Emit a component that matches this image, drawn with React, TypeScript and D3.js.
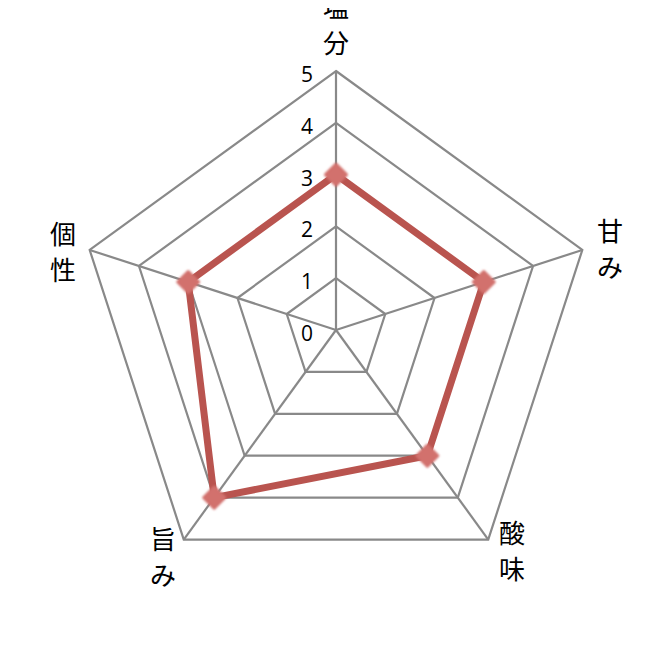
import React, { useRef, useEffect } from "react";
import * as d3 from "d3";

const CATEGORIES = [["塩", "分"], ["甘", "み"], ["酸", "味"], ["旨", "み"], ["個", "性"]];
const VALUES = [3, 3, 3, 4, 3];
const TICKS = [0, 1, 2, 3, 4, 5];

const W = 667;
const H = 649;

const RadarChart: React.FC = () => {
  const svgRef = useRef<SVGSVGElement | null>(null);

  useEffect(() => {
    if (!svgRef.current) return;
    const svg = d3.select(svgRef.current);
    svg.selectAll("*").remove();

    const cx = 336;
    const cy = 330;
    const r = d3.scaleLinear().domain([0, 5]).range([0, 259]);
    const angle = d3
      .scaleLinear()
      .domain([0, CATEGORIES.length])
      .range([0, Math.PI * 2]);

    const pt = (i: number, v: number): [number, number] => [
      cx + r(v) * Math.sin(angle(i)),
      cy - r(v) * Math.cos(angle(i)),
    ];

    const defs = svg.append("defs");
    defs
      .append("filter")
      .attr("id", "soft")
      .attr("x", "-50%")
      .attr("y", "-50%")
      .attr("width", "200%")
      .attr("height", "200%")
      .append("feGaussianBlur")
      .attr("stdDeviation", 1.2);

    const g = svg.append("g");

    /* grid */
    const line = d3.line<[number, number]>().curve(d3.curveLinearClosed);
    TICKS.slice(1).forEach((t) => {
      g.append("path")
        .attr("d", line(CATEGORIES.map((_, i) => pt(i, t))))
        .attr("fill", "none")
        .attr("stroke", "#898989")
        .attr("stroke-width", 2.2);
    });
    CATEGORIES.forEach((_, i) => {
      const [x, y] = pt(i, 5);
      g.append("line")
        .attr("x1", cx)
        .attr("y1", cy)
        .attr("x2", x)
        .attr("y2", y)
        .attr("stroke", "#898989")
        .attr("stroke-width", 2.2);
    });

    /* tick labels */
    g.append("g")
      .selectAll("text")
      .data(TICKS)
      .join("text")
      .attr("x", cx - 29)
      .attr("y", (d) => cy - r(d) + 11)
      .attr("text-anchor", "middle")
      .attr("font-family", "'Open Sans', 'Liberation Sans', sans-serif")
      .attr("font-size", "21px")
      .attr("fill", "#000")
      .text((d) => `${d}`);

    /* category labels */
    const labelPos = [
      [cx, 5],
      [610, 229],
      [512, 531],
      [163, 537],
      [63, 232],
    ];
    CATEGORIES.forEach((chars, i) => {
      const [lx, ly] = labelPos[i];
      chars.forEach((c, k) => {
        g.append("text")
          .attr("x", lx)
          .attr("y", ly + k * 36)
          .attr("text-anchor", "middle")
          .attr("dominant-baseline", "central")
          .attr("font-family", "'Noto Sans CJK JP', sans-serif")
          .attr("font-size", "26px")
          .attr("fill", "#000")
          .text(c);
      });
    });

    /* series */
    const pts = VALUES.map((v, i) => pt(i, v));
    g.append("path")
      .attr("d", line(pts))
      .attr("fill", "none")
      .attr("stroke", "#b9544f")
      .attr("stroke-width", 7)
      .attr("stroke-linejoin", "round");

    const diamond = d3.symbol().type(d3.symbolDiamond2).size(280);
    g.append("g")
      .selectAll("path")
      .data(pts)
      .join("path")
      .attr("transform", (d) => `translate(${d[0]},${d[1]})`)
      .attr("d", diamond() as string)
      .attr("fill", "#d2716d")
      .attr("stroke", "#d2716d")
      .attr("stroke-width", 3)
      .attr("stroke-linejoin", "round")
      .attr("filter", "url(#soft)");
  }, []);

  return <svg ref={svgRef} width={W} height={H} style={{ display: "block" }} />;
};

export default function App() {
  return (
    <div style={{ margin: -8, background: "#fff" }}>
      <RadarChart />
    </div>
  );
}
